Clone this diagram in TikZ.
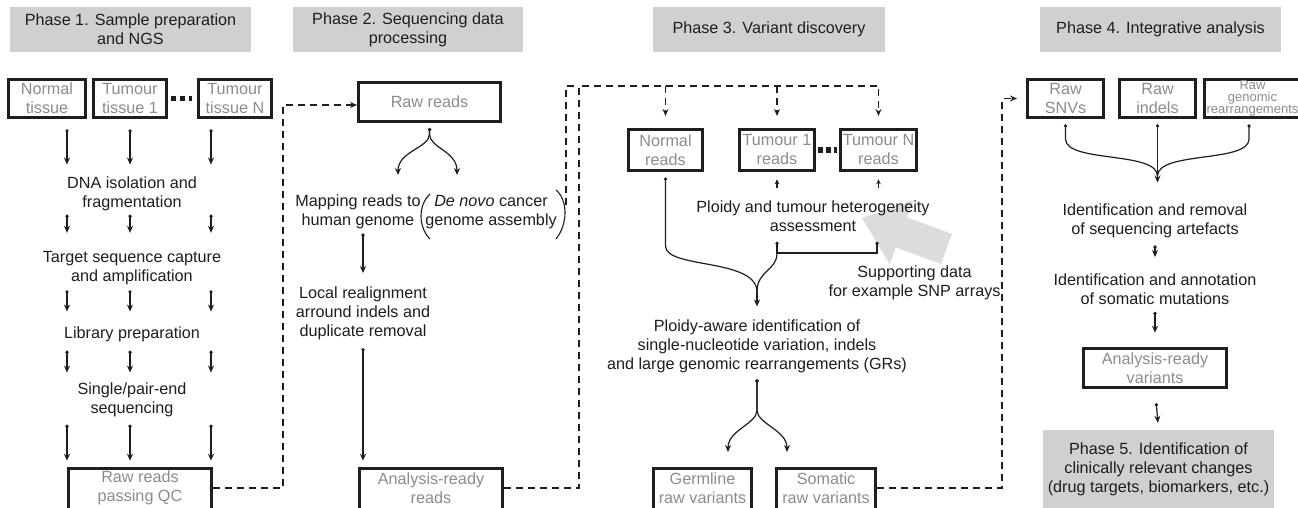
\documentclass[tikz,border=0pt]{standalone}
\usepackage{fontspec}
\setmainfont{Liberation Sans}
\usetikzlibrary{arrows.meta}
\definecolor{hdrgray}{HTML}{D0D0D0}
\definecolor{boxtxt}{HTML}{8C8C8C}
\definecolor{ink}{HTML}{1E1E1E}
\definecolor{bigarrow}{HTML}{DCDCDC}
\newcommand\mainfs{\fontsize{16.2}{19}\selectfont}
\newcommand\smallfs{\fontsize{13}{12}\selectfont}
\begin{document}
\begin{tikzpicture}[x=1pt,y=-1pt,
  hdr/.style={fill=hdrgray, inner sep=0pt, align=center, font=\mainfs, text=ink},
  txt/.style={inner sep=0pt, align=center, font=\mainfs, text=ink},
  bx/.style={draw=ink, line width=2.6pt, inner sep=0pt, align=center, font=\mainfs, text=boxtxt},
  btxt/.style={inner sep=0pt, align=center, font=\mainfs, text=boxtxt},
  ln/.style={draw=ink, line width=1.2pt},
  flow/.style={ln, {Circle[length=3.2pt]}-{Stealth[length=7pt,width=6pt]}},
  flowup/.style={ln, -{Stealth[length=5pt,width=4.5pt]}},
  dconn/.style={draw=ink, line width=1.2pt, dash pattern=on 7pt off 5pt},
  dtip/.style={-{Stealth[length=7pt,width=6pt]}},
  dotrow/.style={draw=ink, line width=5pt, dash pattern=on 5pt off 4pt},
  parenline/.style={draw=ink, line width=1.1pt},
]
\useasboundingbox (0,0) rectangle (1298,508);
\fill[white] (0,0) rectangle (1298,508);

% big gray arrow
\fill[bigarrow] (862,218) -- (913.1,200.5) -- (906.9,217.4) -- (952,233.9) -- (941,263.9) -- (895.9,247.4) -- (889.7,264.3) -- cycle;

% headers
\node[hdr, minimum width=241, minimum height=45] (h1) at (130.5,29.5) {Phase 1. Sample preparation\\and NGS};
\node[hdr, minimum width=230, minimum height=45] (h2) at (408,29.5) {Phase 2. Sequencing data\\processing};
\node[hdr, minimum width=232, minimum height=45] (h3) at (769,29.5) {Phase 3. Variant discovery};
\node[hdr, minimum width=241, minimum height=45] (h4) at (1160.5,29.5) {Phase 4. Integrative analysis};
\node[hdr, minimum width=231, minimum height=78] (h5) at (1158.5,469) {Phase 5. Identification of\\clinically relevant changes\\(drug targets, biomarkers, etc.)};

% ---------- Phase 1
\node[bx, minimum width=77.4, minimum height=38.4] (nt) at (47,98.5) {Normal\\tissue};
\node[bx, minimum width=73.4, minimum height=38.4] (tt1) at (130,98.5) {Tumour\\tissue 1};
\node[bx, minimum width=73.4, minimum height=38.4] (ttn) at (235,98.5) {Tumour\\tissue N};
\draw[dotrow, shorten <=3.3pt, shorten >=5.3pt] (tt1.east) -- (ttn.west);

\coordinate (colA) at (67,0);
\coordinate (colB) at (130,0);
\coordinate (colC) at (211,0);

\node[txt] (dna) at (132,194.2) {DNA isolation and\\fragmentation};
\node[txt] (tsc) at (132,268.2) {Target sequence capture\\and amplification};
\node[txt] (lib) at (132,334.7) {Library preparation};
\node[txt] (seq) at (132,400.2) {Single/pair-end\\sequencing};
\node[bx, minimum width=143.4, minimum height=46.7] (rrqc) at (140,491.65) {};
\node[btxt] (rrqct) at (140,488) {Raw reads\\passing QC};

\foreach \c in {colA,colB,colC} {
  \draw[flow, shorten <=10.3pt, shorten >=12.4pt] (nt.south -| \c) -- (dna.north -| \c);
  \draw[flow, shorten <=3.1pt, shorten >=18.4pt] (dna.south -| \c) -- (tsc.north -| \c);
  \draw[flow, shorten <=5.1pt, shorten >=15.4pt] (tsc.south -| \c) -- (lib.north -| \c);
  \draw[flow, shorten <=8.1pt, shorten >=10.4pt] (lib.south -| \c) -- (seq.north -| \c);
  \draw[flow, shorten <=7.1pt, shorten >=6.3pt] (seq.south -| \c) -- (rrqc.north -| \c);
}

% ---------- Phase 2
\node[bx, minimum width=142.4, minimum height=39.4] (rawr) at (429.5,102) {Raw reads};
\coordinate (c12) at (283,105);
\draw[dconn, dtip] (rrqc.east |- rrqct) -| (c12) -- (rawr.west |- c12);

\coordinate (b2l) at (398,175);
\coordinate (b2r) at (457,175);
\draw[flow] ([yshift=-5pt]rawr.south) -- ++(0,6) .. controls +(0,14) and +(0,-24) .. (b2l);
\draw[flow] ([yshift=-5pt]rawr.south) -- ++(0,6) .. controls +(0,14) and +(0,-24) .. (b2r);

\node[txt] (map) at (358,212.2) {Mapping reads to\\human genome};
\node[txt] (dnv) at (491,212.2) {\textit{De novo} cancer\\genome assembly};
\draw[parenline] (430,194) .. controls (418,205) and (418,227) .. (430,239);
\draw[parenline] (556,190) .. controls (568,200) and (568,224) .. (556,239);
\coordinate (rp) at (566,205);

\node[txt] (loc) at (363,313.2) {Local realignment\\arround indels and\\duplicate removal};
\draw[flow, shorten <=4pt, shorten >=13.4pt] (map.south -| loc) -- (loc.north);
\node[bx, minimum width=143.4, minimum height=46.7] (arr) at (431,491.65) {};
\node[btxt] (arrt) at (431,488) {Analysis-ready\\reads};
\draw[flow, shorten <=8.1pt, shorten >=6.3pt] (loc.south) -- (arr.north -| loc);

% ---------- Phase 3
\node[bx, minimum width=74.4, minimum height=41.4] (nr) at (665.5,150) {Normal\\reads};
\node[bx, minimum width=75.4, minimum height=41.4] (t1r) at (777,150) {Tumour 1\\reads};
\node[bx, minimum width=76.4, minimum height=41.4] (tnr) at (878.5,150) {Tumour N\\reads};
\draw[dotrow, dash pattern=on 5pt off 3pt, shorten <=2.3pt, shorten >=2.3pt] (t1r.east) -- (tnr.west);

\coordinate (c23) at (579,86);
\draw[dconn, dtip] (arr.east |- arrt) -| (c23) -| ([yshift=12pt]tnr.north);
\draw[dconn] (rp) |- (c23);
\draw[dconn, dtip, shorten >=12pt] (nr.north |- c23) -- (nr.north);
\draw[dconn, dtip, shorten >=12pt] (t1r.north |- c23) -- (t1r.north);

\node[txt] (plo) at (813,216.1) {Ploidy and tumour heterogeneity\\assessment};
\draw[flowup, shorten <=12.4pt, shorten >=7.3pt] (plo.north -| t1r) -- (t1r.south);
\draw[flowup, shorten <=12.4pt, shorten >=7.3pt] (plo.north -| tnr) -- (tnr.south);

\coordinate (bkL) at (777,253);
\coordinate (bkR) at (877,253);
\draw[ln, {Circle[length=3.2pt]}-{Circle[length=3.2pt]}] ([yshift=-10pt]plo.south -| bkL) -- (bkL) -- (bkR) -- ([yshift=-10pt]plo.south -| bkR);

\node[txt] (pa) at (757,346.6) {Ploidy-aware identification of\\single-nucleotide variation, indels\\and large genomic rearrangements (GRs)};
\coordinate (mg3) at (757,292);
\draw[ln, {Circle[length=3.2pt]}-, shorten <=5.5pt] (nr.south) -- ++(0,74) .. controls +(0,23) and +(0,-34) .. (mg3);
\draw[ln] (bkL) .. controls +(0,18) and +(0,-22) .. (mg3);
\draw[ln, -{Stealth[length=7pt,width=6pt]}, shorten >=13.4pt] (mg3) -- (pa.north);

\node[txt] (sup) at (914.5,283.2) {Supporting data\\for example SNP arrays};

\coordinate (sp3) at (757,410);
\coordinate (gt) at (728,452);
\coordinate (st) at (787,452);
\draw[flow] ([yshift=-6pt]pa.south) -- (sp3) .. controls +(0,14) and +(0,-22) .. (gt);
\draw[flow] ([yshift=-6pt]pa.south) -- (sp3) .. controls +(0,14) and +(0,-22) .. (st);

\node[bx, minimum width=98.4, minimum height=46.7] (gv) at (702.5,491.65) {};
\node[btxt] (gvt) at (702.5,488) {Germline\\raw variants};
\node[bx, minimum width=99.4, minimum height=46.7] (sv) at (826,491.65) {};
\node[btxt] (svt) at (826,488) {Somatic\\raw variants};

% ---------- Phase 4
\node[bx, minimum width=76.4, minimum height=38.4] (snv) at (1065.5,98.5) {Raw\\SNVs};
\node[bx, minimum width=76.4, minimum height=38.4] (ind) at (1157.5,98.5) {Raw\\indels};
\node[bx, minimum width=96.4, minimum height=38.4, font=\smallfs] (gr) at (1252.5,98.5) {Raw\\genomic\\rearrangements};

\coordinate (c34) at (1002,98.5);
\draw[dconn, dtip, shorten >=9pt] (sv.east |- svt) -| (c34) -- (snv.west);

\node[txt] (idr) at (1155,221.2) {Identification and removal\\of sequencing artefacts};
\coordinate (mg4) at (1157.5,176);
\draw[ln, {Circle[length=3.2pt]}-, shorten <=5.3pt] (snv.south) -- ++(0,20) .. controls +(0,24) and +(0,-25) .. (mg4);
\draw[ln, {Circle[length=3.2pt]}-, shorten <=5.3pt] ([xshift=-3.5pt]gr.south) -- ++(0,20) .. controls +(0,24) and +(0,-25) .. (mg4);
\draw[flow, shorten <=5.3pt, shorten >=21.4pt] (ind.south) -- (idr.north -| ind);

\node[txt] (ann) at (1155,289.1) {Identification and annotation\\of somatic mutations};
\draw[flow, shorten <=7pt, shorten >=16.4pt] (idr.south) -- (ann.north);
\node[bx, minimum width=143.4, minimum height=39.4] (arv) at (1155,368) {Analysis-ready\\variants};
\draw[flow, shorten <=7.2pt, shorten >=14.3pt] (ann.south) -- (arv.north);
\draw[flow, shorten <=14.3pt, shorten >=7pt] (arv.south) -- (h5.north);
\end{tikzpicture}
\end{document}
